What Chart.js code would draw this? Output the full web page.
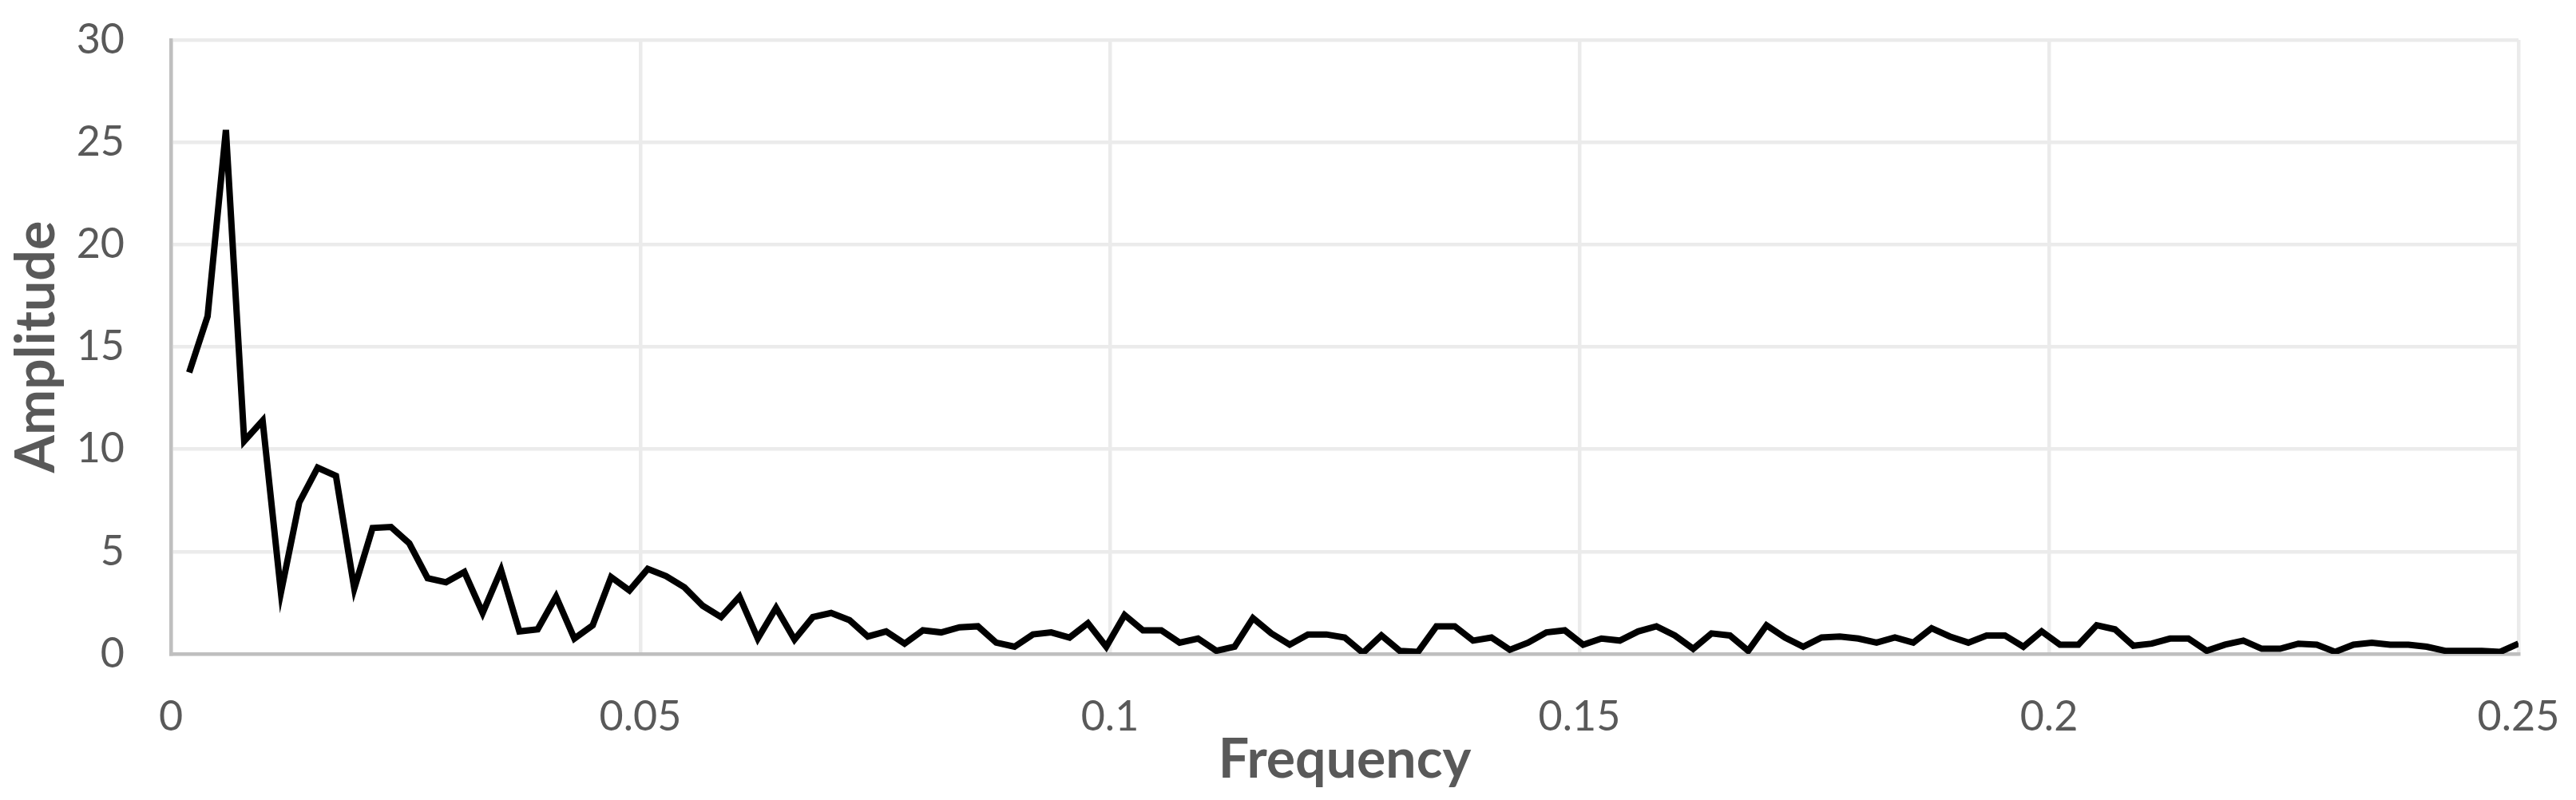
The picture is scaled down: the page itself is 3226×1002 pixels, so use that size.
<!DOCTYPE html>
<html>
<head>
<meta charset="utf-8">
<title>Amplitude vs Frequency</title>
<script src="https://cdn.jsdelivr.net/npm/chart.js@4.4.1/dist/chart.umd.min.js"></script>
<style>
  html, body { margin: 0; padding: 0; background: #fff; }
  #wrap { width: 3226px; height: 1002px; }
</style>
</head>
<body>
<div id="wrap"><canvas id="spectrum" width="3226" height="1002"></canvas></div>
<script>
// frequency bins (x)
var frequency = [
  0.00195, 0.00391, 0.00586, 0.00781, 0.00977, 0.01172, 0.01367, 0.01563,
  0.01758, 0.01953, 0.02148, 0.02344, 0.02539, 0.02734, 0.0293, 0.03125,
  0.0332, 0.03516, 0.03711, 0.03906, 0.04102, 0.04297, 0.04492, 0.04688,
  0.04883, 0.05078, 0.05273, 0.05469, 0.05664, 0.05859, 0.06055, 0.0625,
  0.06445, 0.06641, 0.06836, 0.07031, 0.07227, 0.07422, 0.07617, 0.07813,
  0.08008, 0.08203, 0.08398, 0.08594, 0.08789, 0.08984, 0.0918, 0.09375,
  0.0957, 0.09766, 0.09961, 0.10156, 0.10352, 0.10547, 0.10742, 0.10938,
  0.11133, 0.11328, 0.11523, 0.11719, 0.11914, 0.12109, 0.12305, 0.125,
  0.12695, 0.12891, 0.13086, 0.13281, 0.13477, 0.13672, 0.13867, 0.14063,
  0.14258, 0.14453, 0.14648, 0.14844, 0.15039, 0.15234, 0.1543, 0.15625,
  0.1582, 0.16016, 0.16211, 0.16406, 0.16602, 0.16797, 0.16992, 0.17188,
  0.17383, 0.17578, 0.17773, 0.17969, 0.18164, 0.18359, 0.18555, 0.1875,
  0.18945, 0.19141, 0.19336, 0.19531, 0.19727, 0.19922, 0.20117, 0.20313,
  0.20508, 0.20703, 0.20898, 0.21094, 0.21289, 0.21484, 0.2168, 0.21875,
  0.2207, 0.22266, 0.22461, 0.22656, 0.22852, 0.23047, 0.23242, 0.23438,
  0.23633, 0.23828, 0.24023, 0.24219, 0.24414, 0.24609, 0.24805, 0.25
];

// amplitude (y)
var amplitude = [
  13.75, 16.5, 25.6, 10.4, 11.4, 3.0, 7.4, 9.1,
  8.7, 3.2, 6.15, 6.2, 5.4, 3.7, 3.5, 4.0,
  2.0, 4.1, 1.1, 1.2, 2.8, 0.75, 1.4, 3.75,
  3.1, 4.15, 3.8, 3.25, 2.35, 1.8, 2.8, 0.75,
  2.25, 0.7, 1.8, 2.0, 1.65, 0.85, 1.1, 0.5,
  1.15, 1.05, 1.3, 1.35, 0.55, 0.35, 0.95, 1.05,
  0.8, 1.5, 0.35, 1.9, 1.15, 1.15, 0.55, 0.75,
  0.15, 0.35, 1.75, 1.0, 0.45, 0.95, 0.95, 0.8,
  0.05, 0.9, 0.15, 0.1, 1.35, 1.35, 0.65, 0.8,
  0.2, 0.55, 1.05, 1.15, 0.45, 0.75, 0.65, 1.1,
  1.35, 0.9, 0.25, 1.0, 0.9, 0.15, 1.4, 0.8,
  0.35, 0.8, 0.85, 0.75, 0.55, 0.8, 0.55, 1.25,
  0.85, 0.55, 0.9, 0.9, 0.35, 1.1, 0.45, 0.45,
  1.4, 1.2, 0.4, 0.5, 0.75, 0.75, 0.15, 0.45,
  0.65, 0.25, 0.25, 0.5, 0.45, 0.1, 0.45, 0.55,
  0.45, 0.45, 0.35, 0.15, 0.15, 0.15, 0.1, 0.5
];

var xTicks = [0, 0.05, 0.1, 0.15, 0.2, 0.25];
var yTicks = [0, 5, 10, 15, 20, 25, 30];

var textGrey = "#595959";
var gridGrey = "#ebebeb";
var axisGrey = "#bfbfbf";
var fontFamily = "Lato, 'Open Sans', sans-serif";

var points = frequency.map(function (f, i) {
  return { x: f, y: amplitude[i] };
});

// tick padding would otherwise be added to the edge padding of the plot
function noEdgePadding(s) {
  s.paddingTop = 0;
  s.paddingBottom = 0;
  s.paddingLeft = 0;
  s.paddingRight = 0;
}

Chart.defaults.font.family = fontFamily;
Chart.defaults.color = textGrey;

new Chart(document.getElementById("spectrum").getContext("2d"), {
  type: "line",
  data: {
    datasets: [
      {
        label: "Amplitude",
        data: points,
        borderColor: "#000000",
        borderWidth: 8,
        pointRadius: 0,
        pointHoverRadius: 0,
        tension: 0,
        fill: false,
      },
    ],
  },
  options: {
    responsive: false,
    animation: false,
    devicePixelRatio: 1,
    layout: { padding: { top: 50, right: 72, bottom: 0, left: 0 } },
    plugins: { legend: { display: false }, tooltip: { enabled: false } },
    scales: {
      x: {
        type: "linear",
        min: xTicks[0],
        max: xTicks[xTicks.length - 1],
        afterBuildTicks: function (s) {
          s.ticks = xTicks.map(function (v) { return { value: v }; });
        },
        afterFit: function (s) { s.height = 183; noEdgePadding(s); },
        ticks: {
          padding: 48,
          maxRotation: 0,
          font: { size: 52 },
          color: textGrey,
          callback: function (v) { return String(+v.toFixed(4)); },
        },
        grid: { color: gridGrey, lineWidth: 4.5, drawTicks: false },
        border: { color: axisGrey, width: 4.5 },
        title: {
          display: true,
          text: "Frequency",
          color: textGrey,
          font: { size: 68, weight: "bold" },
          padding: { top: 0, bottom: 9 },
        },
      },
      y: {
        min: yTicks[0],
        max: yTicks[yTicks.length - 1],
        afterBuildTicks: function (s) {
          s.ticks = yTicks.map(function (v) { return { value: v }; });
        },
        afterFit: function (s) { s.width = 214; noEdgePadding(s); },
        ticks: {
          padding: 58,
          font: { size: 52 },
          color: textGrey,
        },
        grid: { color: gridGrey, lineWidth: 4.5, drawTicks: false },
        border: { color: axisGrey, width: 4.5 },
        title: {
          display: true,
          text: "Amplitude",
          color: textGrey,
          font: { size: 68, weight: "bold" },
          padding: { top: 5, bottom: 0 },
        },
      },
    },
  },
});
</script>
</body>
</html>
